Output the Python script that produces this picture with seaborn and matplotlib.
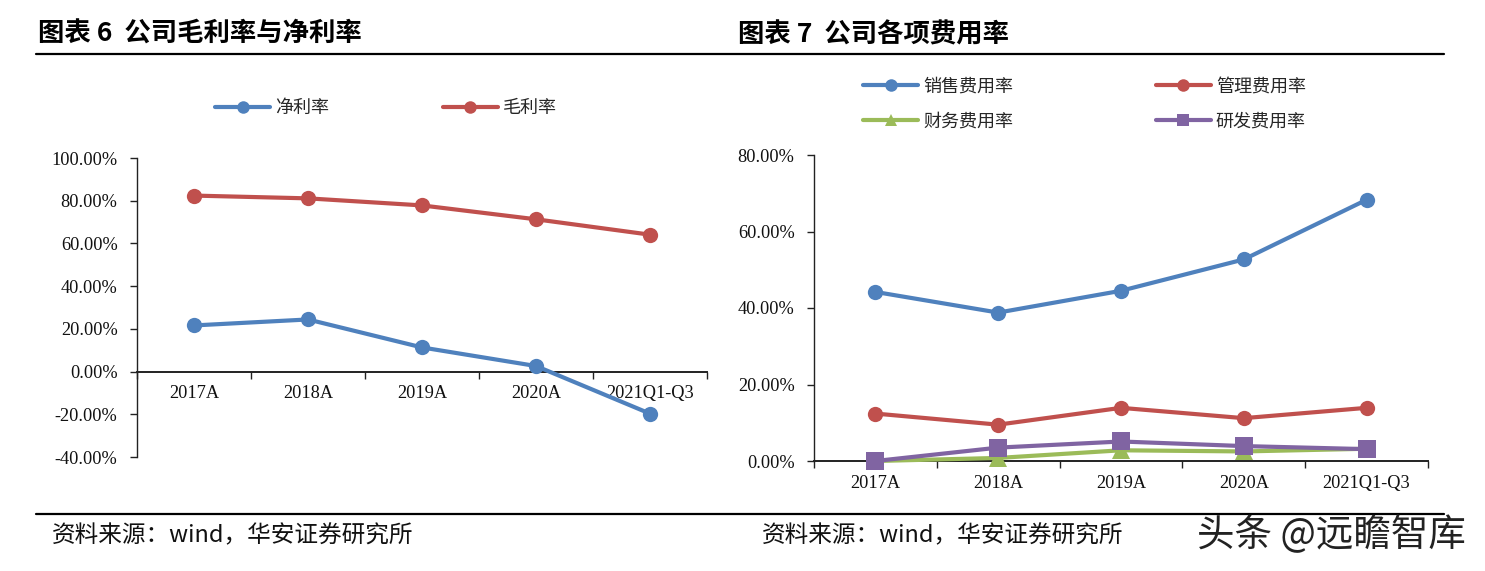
import pandas as pd
import matplotlib
matplotlib.use('Agg')
import matplotlib.pyplot as plt
import seaborn as sns
from matplotlib.lines import Line2D
from matplotlib.ticker import FuncFormatter, FixedLocator

sns.set_style('white')
CJK = ['Noto Sans CJK SC', 'DejaVu Sans']
plt.rcParams['font.family'] = CJK

W, H = 1485, 571

#^ Data ============================================================================================>
years = ['2017A', '2018A', '2019A', '2020A', '2021Q1-Q3']

net_margin = [21.6, 24.4, 11.3, 2.6, -19.7]
gross_margin = [82.4, 81.1, 77.8, 71.3, 64.1]

sales_rate = [44.2, 38.8, 44.5, 52.7, 68.3]
admin_rate = [12.4, 9.5, 13.9, 11.2, 13.9]
finance_rate = [0.0, 0.8, 2.8, 2.5, 3.2]
rnd_rate = [0.0, 3.5, 5.1, 3.9, 3.1]

left_ticks = [-40, -20, 0, 20, 40, 60, 80, 100]
right_ticks = [0, 20, 40, 60, 80]

BLUE, RED, GREEN, PURPLE = '#4f81bd', '#c0504d', '#9bbb59', '#8064a2'


#^ Functions =======================================================================================>
def make_axes(fig, x0, x1, y_top, y_bottom):
    """ Axes placed from pixel positions of the reference;
    """
    return fig.add_axes([x0 / W, 1 - y_bottom / H, (x1 - x0) / W, (y_bottom - y_top) / H])


def to_long(series):
    rows = []
    for name, values in series.items():
        for year, val in zip(years, values):
            rows.append({'year': year, 'rate': val, 'series': name})
    return pd.DataFrame(rows)


def draw_panel(ax, series, palette, markers, ticks):
    df = to_long(series)
    sns.lineplot(data=df, x='year', y='rate', hue='series', style='series', ax=ax,
                 palette=palette, markers=markers, dashes=False, sort=False,
                 linewidth=3.0, markersize=11, markeredgecolor=None, markeredgewidth=0,
                 clip_on=False, zorder=3)
    ax.set_xlim(-0.5, 4.5)
    ax.set_ylim(ticks[0], ticks[-1])
    ax.set_xlabel('')
    ax.set_ylabel('')
    for side in ['top', 'right']:
        ax.spines[side].set_visible(False)
    ax.spines['bottom'].set_position(('data', 0))
    ax.spines['bottom'].set_linewidth(1.4)
    ax.spines['left'].set_linewidth(1.0)
    ax.spines['bottom'].set_color('#222222')
    ax.spines['left'].set_color('#222222')

    ax.set_yticks(ticks)
    ax.yaxis.set_major_formatter(FuncFormatter(lambda v, p: f'{v:.2f}%'))
    ax.xaxis.set_major_locator(FixedLocator(range(5)))
    ax.xaxis.set_ticklabels(years)
    ax.xaxis.set_minor_locator(FixedLocator([-0.5, 0.5, 1.5, 2.5, 3.5, 4.5]))
    ax.tick_params(axis='x', which='major', length=0, pad=10)
    ax.tick_params(axis='x', which='minor', length=5, width=1, color='#222222', bottom=True)
    ax.tick_params(axis='y', length=5, width=1, color='#222222', left=True, pad=9)
    for lab in ax.get_xticklabels() + ax.get_yticklabels():
        lab.set_family('Liberation Serif')
        lab.set_fontsize(13.2)
        lab.set_color('#111111')
    if ax.get_legend() is not None:
        ax.get_legend().remove()


def add_legend(fig, ax, x_left, y_center, order, col_space):
    handles, labels = ax.get_legend_handles_labels()
    handles = [handles[i] for i in order]
    labels = [labels[i] for i in order]
    for h in handles:
        h.set_markersize(9)
    fig.legend(handles, labels, ncol=2, frameon=False, prop={'family': CJK, 'size': 13},
               loc='center left', bbox_to_anchor=(x_left / W, 1 - y_center / H),
               borderaxespad=0, borderpad=0, handlelength=3.05, handletextpad=0.28,
               columnspacing=col_space, labelspacing=0.91)


#^ Figure ==========================================================================================>
fig = plt.figure(figsize=(W / 100, H / 100), dpi=100, facecolor='white')

ax1 = make_axes(fig, 137, 707, 158, 457)
draw_panel(ax1, {'净利率': net_margin, '毛利率': gross_margin},
           [BLUE, RED], ['o', 'o'], left_ticks)
add_legend(fig, ax1, 215, 108, [0, 1], 6.3)

ax2 = make_axes(fig, 814, 1428, 155, 461)
draw_panel(ax2, {'销售费用率': sales_rate, '管理费用率': admin_rate,
                 '财务费用率': finance_rate, '研发费用率': rnd_rate},
           [BLUE, RED, GREEN, PURPLE], ['o', 'o', '^', 's'], right_ticks)
# legend is filled column by column, reference reads row by row
add_legend(fig, ax2, 863, 104, [0, 2, 1, 3], 7.9)
ax2.lines[2].set_markersize(13)
ax2.lines[3].set_markersize(13)

# panel titles, rules and source lines
fig.text(38 / W, 1 - 34.5 / H, '图表 6  公司毛利率与净利率', fontsize=19, fontweight='bold', va='center', color='black')
fig.text(738 / W, 1 - 34.5 / H, '图表 7  公司各项费用率', fontsize=19, fontweight='bold', va='center', color='black')
fig.add_artist(Line2D([36 / W, 1444 / W], [1 - 53.5 / H] * 2, color='black', lw=1.6))
fig.add_artist(Line2D([36 / W, 1444 / W], [1 - 513.5 / H] * 2, color='black', lw=1.6))

fig.text(52 / W, 1 - 535.5 / H, '资料来源：wind，华安证券研究所', fontsize=17, va='center', color='#111111')
fig.text(762 / W, 1 - 535.5 / H, '资料来源：wind，华安证券研究所', fontsize=17, va='center', color='#111111')
fig.text(1197 / W, 1 - 536 / H, '头条 @远瞻智库', fontsize=27, va='center', color='#222222')

fig.savefig('out.png', dpi=100)
